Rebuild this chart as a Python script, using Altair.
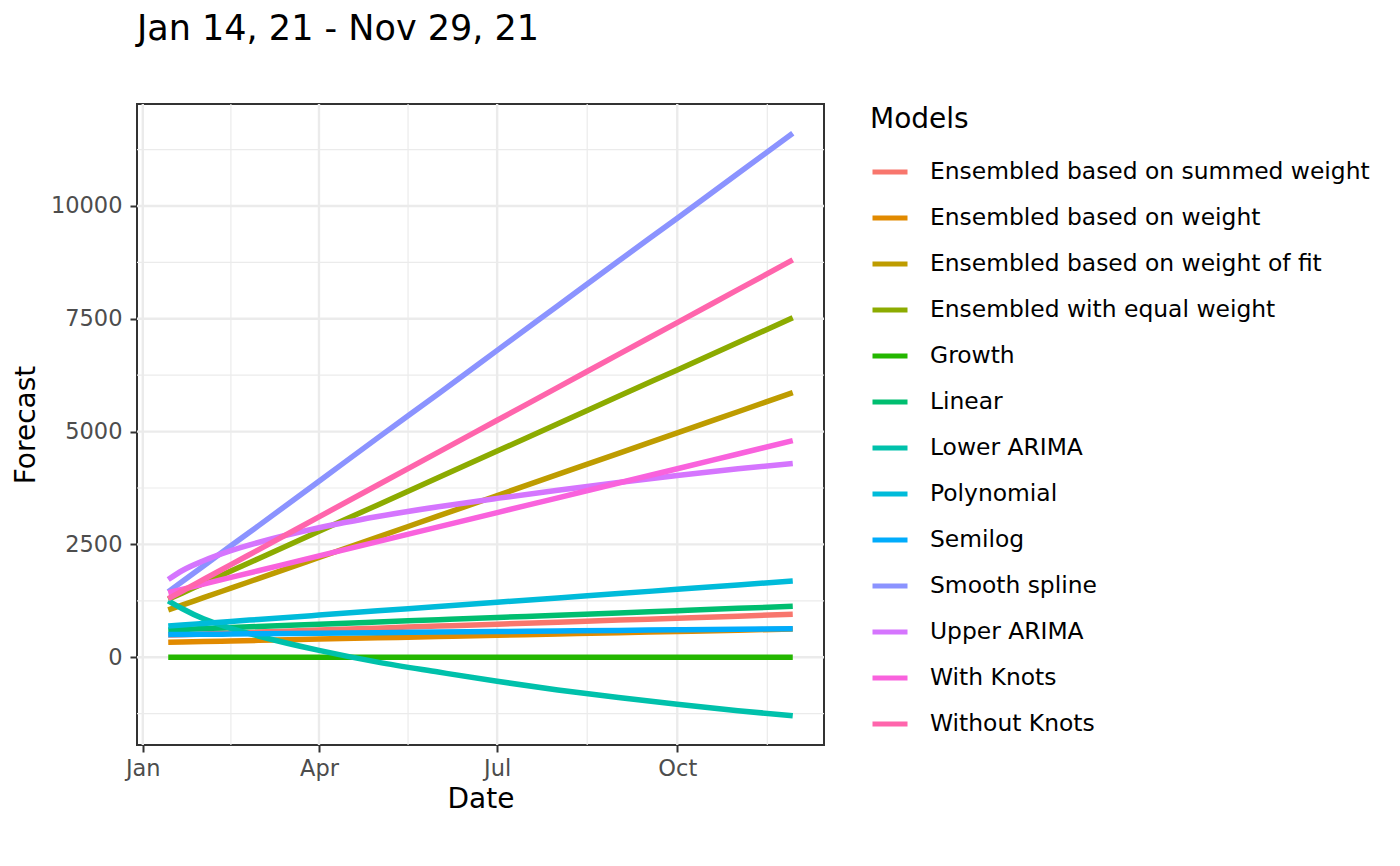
import altair as alt
import pandas as pd

FONT = "DejaVu Sans"

dates = ["2021-01-14", "2021-01-21", "2021-02-01", "2021-02-15", "2021-03-01",
         "2021-04-01", "2021-05-01", "2021-06-01", "2021-07-01", "2021-08-01",
         "2021-09-01", "2021-10-01", "2021-11-01", "2021-11-29"]

models = ["Ensembled based on summed weight", "Ensembled based on weight",
          "Ensembled based on weight of fit", "Ensembled with equal weight",
          "Growth", "Linear", "Lower ARIMA", "Polynomial", "Semilog",
          "Smooth spline", "Upper ARIMA", "With Knots", "Without Knots"]

colors = ["#F8766D", "#E18A00", "#BE9C00", "#8CAB00", "#24B700", "#00BE70",
          "#00C1AB", "#00BBDA", "#00ACFC", "#8B93FF", "#D575FE", "#F962DD", "#FF65AC"]

summed_weight = [490, 500, 516, 536, 556, 601, 644, 689, 732, 777, 822, 865, 910, 950]
weight        = [330, 336, 347, 360, 373, 401, 429, 458, 485, 514, 543, 570, 599, 625]
weight_of_fit = [1047, 1152, 1319, 1530, 1741, 2209, 2662, 3130, 3583, 4051, 4519, 4971, 5439, 5862]
equal_weight  = [1283, 1420, 1635, 1909, 2183, 2789, 3375, 3981, 4568, 5174, 5781, 6367, 6973, 7521]
growth        = [0, 0, 0, 0, 0, 0, 0, 0, 0, 0, 0, 0, 0, 0]
linear        = [604, 615, 634, 657, 680, 731, 780, 831, 880, 931, 982, 1031, 1082, 1128]
lower_arima   = [1250, 1080, 850, 640, 470, 150, -110, -330, -535, -725, -895, -1045, -1185, -1300]
polynomial    = [693, 715, 749, 793, 836, 933, 1027, 1123, 1217, 1314, 1410, 1504, 1601, 1688]
semilog       = [500, 503, 507, 513, 519, 531, 544, 556, 568, 581, 594, 606, 619, 630]
smooth_spline = [1450, 1670, 2020, 2470, 2910, 3900, 4860, 5840, 6800, 7790, 8780, 9730, 10720, 11610]
upper_arima   = [1720, 1916, 2136, 2360, 2542, 2868, 3117, 3334, 3520, 3700, 3870, 4026, 4175, 4293]
with_knots    = [1430, 1504, 1620, 1768, 1916, 2244, 2560, 2888, 3205, 3532, 3860, 4177, 4504, 4800]
without_knots = [1298, 1462, 1721, 2051, 2380, 3110, 3816, 4545, 5251, 5980, 6710, 7415, 8145, 8804]

series = [summed_weight, weight, weight_of_fit, equal_weight, growth, linear,
          lower_arima, polynomial, semilog, smooth_spline, upper_arima,
          with_knots, without_knots]

x_major = ["2021-01-01", "2021-04-01", "2021-07-01", "2021-10-01"]
x_minor = ["2021-02-15", "2021-05-16T12:00:00", "2021-08-16", "2021-11-16"]
y_major = [0, 2500, 5000, 7500, 10000]
y_minor = [-1250, 1250, 3750, 6250, 8750, 11250]

rows = []
for m, vals in zip(models, series):
    for d, v in zip(dates, vals):
        rows.append({"date": d + "T00:00:00", "value": v, "model": m})
df = pd.DataFrame(rows)


def fix(d):
    return d if "T" in d else d + "T00:00:00"


xmaj_df = pd.DataFrame({"date": [fix(d) for d in x_major]})
xmin_df = pd.DataFrame({"date": [fix(d) for d in x_minor]})
ymaj_df = pd.DataFrame({"value": y_major})
ymin_df = pd.DataFrame({"value": y_minor})

x_scale = alt.Scale(domain=[alt.DateTime(year=2020, month=12, date=29, hours=1),
                            alt.DateTime(year=2021, month=12, date=14, hours=23)])
y_scale = alt.Scale(domain=[-1946, 12260], nice=False, zero=False)

x_axis = alt.Axis(values=[alt.DateTime(year=2021, month=1, date=1),
                          alt.DateTime(year=2021, month=4, date=1),
                          alt.DateTime(year=2021, month=7, date=1),
                          alt.DateTime(year=2021, month=10, date=1)],
                  format="%b", title="Date")
y_axis = alt.Axis(values=y_major, format="d", title="Forecast")

X = alt.X("date:T", scale=x_scale, axis=x_axis)
Y = alt.Y("value:Q", scale=y_scale, axis=y_axis)

grid_major = "#EBEBEB"

xmin_rules = alt.Chart(xmin_df).mark_rule(color=grid_major, strokeWidth=1.2).encode(x=X)
ymin_rules = alt.Chart(ymin_df).mark_rule(color=grid_major, strokeWidth=1.2).encode(y=Y)
xmaj_rules = alt.Chart(xmaj_df).mark_rule(color=grid_major, strokeWidth=2.4).encode(x=X)
ymaj_rules = alt.Chart(ymaj_df).mark_rule(color=grid_major, strokeWidth=2.4).encode(y=Y)

lines = alt.Chart(df).mark_line(strokeWidth=5.5, strokeCap="butt", clip=True,
                                interpolate="monotone").encode(
    x=X,
    y=Y,
    color=alt.Color("model:N",
                    scale=alt.Scale(domain=models, range=colors),
                    legend=alt.Legend(title="Models", orient="none", legendX=733, legendY=2,
                                      titleFontSize=28, titleFontWeight="normal",
                                      titleColor="black", titleFont=FONT,
                                      labelFontSize=23.4, labelColor="black", labelFont=FONT,
                                      symbolType="stroke", symbolSize=1225,
                                      symbolStrokeWidth=5, labelOffset=20,
                                      rowPadding=14, titlePadding=18, padding=0,
                                      labelLimit=700)),
    order=alt.Order("model:N"),
)

chart = alt.layer(xmin_rules, ymin_rules, xmaj_rules, ymaj_rules, lines).properties(
    width=687, height=641,
    background="white",
    title=alt.TitleParams(text="Jan 14, 21 - Nov 29, 21", anchor="start", frame="group",
                          fontSize=35, font=FONT, fontWeight="normal", color="black",
                          baseline="alphabetic", offset=28),
    autosize=alt.AutoSizeParams(type="none"),
    padding={"left": 129, "top": 96, "right": 568, "bottom": 113},
).configure_view(
    stroke="#333333", strokeWidth=2
).configure_axis(
    grid=False, domain=False,
    labelFont=FONT, labelFontSize=22.5, labelColor="#4D4D4D",
    titleFont=FONT, titleFontSize=28, titleFontWeight="normal", titleColor="black",
    tickColor="#333333", tickWidth=2, tickSize=7, labelPadding=5, titlePadding=6,
).configure_axisY(
    labelPadding=8, titlePadding=10,
)

chart.save("out.html", embed_options={"renderer": "svg", "actions": False})
